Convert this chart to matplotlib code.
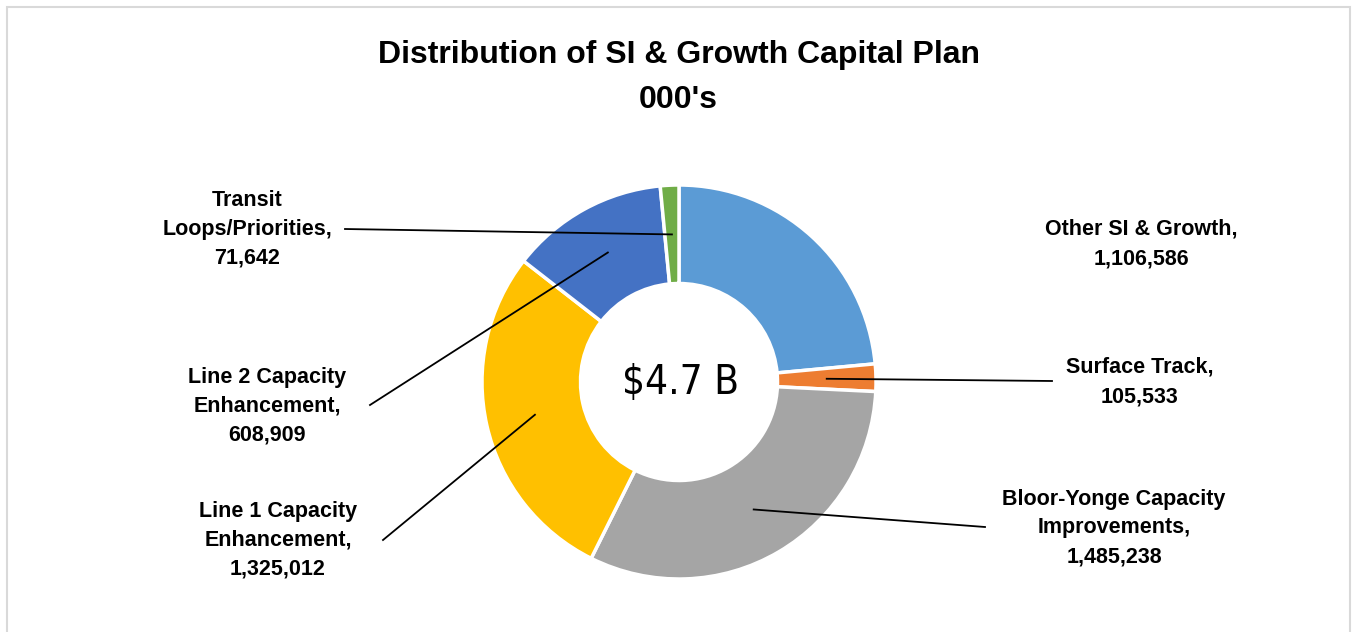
import numpy as np
import matplotlib.pyplot as plt
from matplotlib.patches import Rectangle

# slices, clockwise from 12 o'clock
categories = ["Other SI & Growth", "Surface Track", "Bloor-Yonge Capacity Improvements",
              "Line 1 Capacity Enhancement", "Line 2 Capacity Enhancement",
              "Transit Loops/Priorities"]
values = [1106586, 105533, 1485238, 1325012, 608909, 71642]
colors = ["#5B9BD5", "#ED7D31", "#A5A5A5", "#FFC000", "#4472C4", "#70AD47"]
label_texts = ["Other SI & Growth,\n1,106,586", "Surface Track,\n105,533",
               "Bloor-Yonge Capacity\nImprovements,\n1,485,238",
               "Line 1 Capacity\nEnhancement,\n1,325,012",
               "Line 2 Capacity\nEnhancement,\n608,909",
               "Transit\nLoops/Priorities,\n71,642"]
center_text = "$4.7 B"
title = "Distribution of SI & Growth Capital Plan\n000's"

W, H = 1357, 632
fig = plt.figure(figsize=(W / 100, H / 100), dpi=100)
ax = fig.add_axes([0, 0, 1, 1])

# chart border
ax.add_patch(Rectangle((7, -10), W - 14, H - 7 + 10, fill=False, edgecolor="#D9D9D9", linewidth=1.5))

cx, cy, R = 679, H - 382, 197
wedges, _ = ax.pie(values, colors=colors, startangle=90, counterclock=False,
                   center=(cx, cy), radius=R, frame=True,
                   wedgeprops=dict(width=R * 0.5, edgecolor="white", linewidth=2.5))
ax.set_xlim(0, W)
ax.set_ylim(0, H)
ax.set_aspect("equal")
ax.axis("off")

ax.text(cx + 2, cy - 1, center_text, ha="center", va="center", fontsize=29,
        family="DejaVu Sans", stretch="condensed")

fig.text(0.5, 1 - 55 / H, title.split("\n")[0], ha="center", va="center",
         fontsize=23, weight="bold", family="Liberation Sans")
fig.text(0.5, 1 - 100 / H, title.split("\n")[1], ha="center", va="center",
         fontsize=23, weight="bold", family="Liberation Sans")

# label centres and leader-line start points (pixels, top-left origin)
label_pos = [(1141, 244), (1140, 382), (1114, 528), (278, 540), (267, 406), (247, 229)]
line_start = [None, (1052, 381), (985, 527), (383, 540), (370, 405), (345, 229)]

for w, txt, (lx, ly), ls in zip(wedges, label_texts, label_pos, line_start):
    ax.text(lx, H - ly, txt, ha="center", va="center", fontsize=15.5,
            weight="bold", family="Liberation Sans", linespacing=1.5)
    if ls is not None:
        ang = np.deg2rad((w.theta1 + w.theta2) / 2)
        r = R * 0.75
        ax.plot([ls[0], cx + r * np.cos(ang)], [H - ls[1], cy + r * np.sin(ang)],
                color="black", linewidth=1.3)

fig.savefig("out.png", dpi=100)
